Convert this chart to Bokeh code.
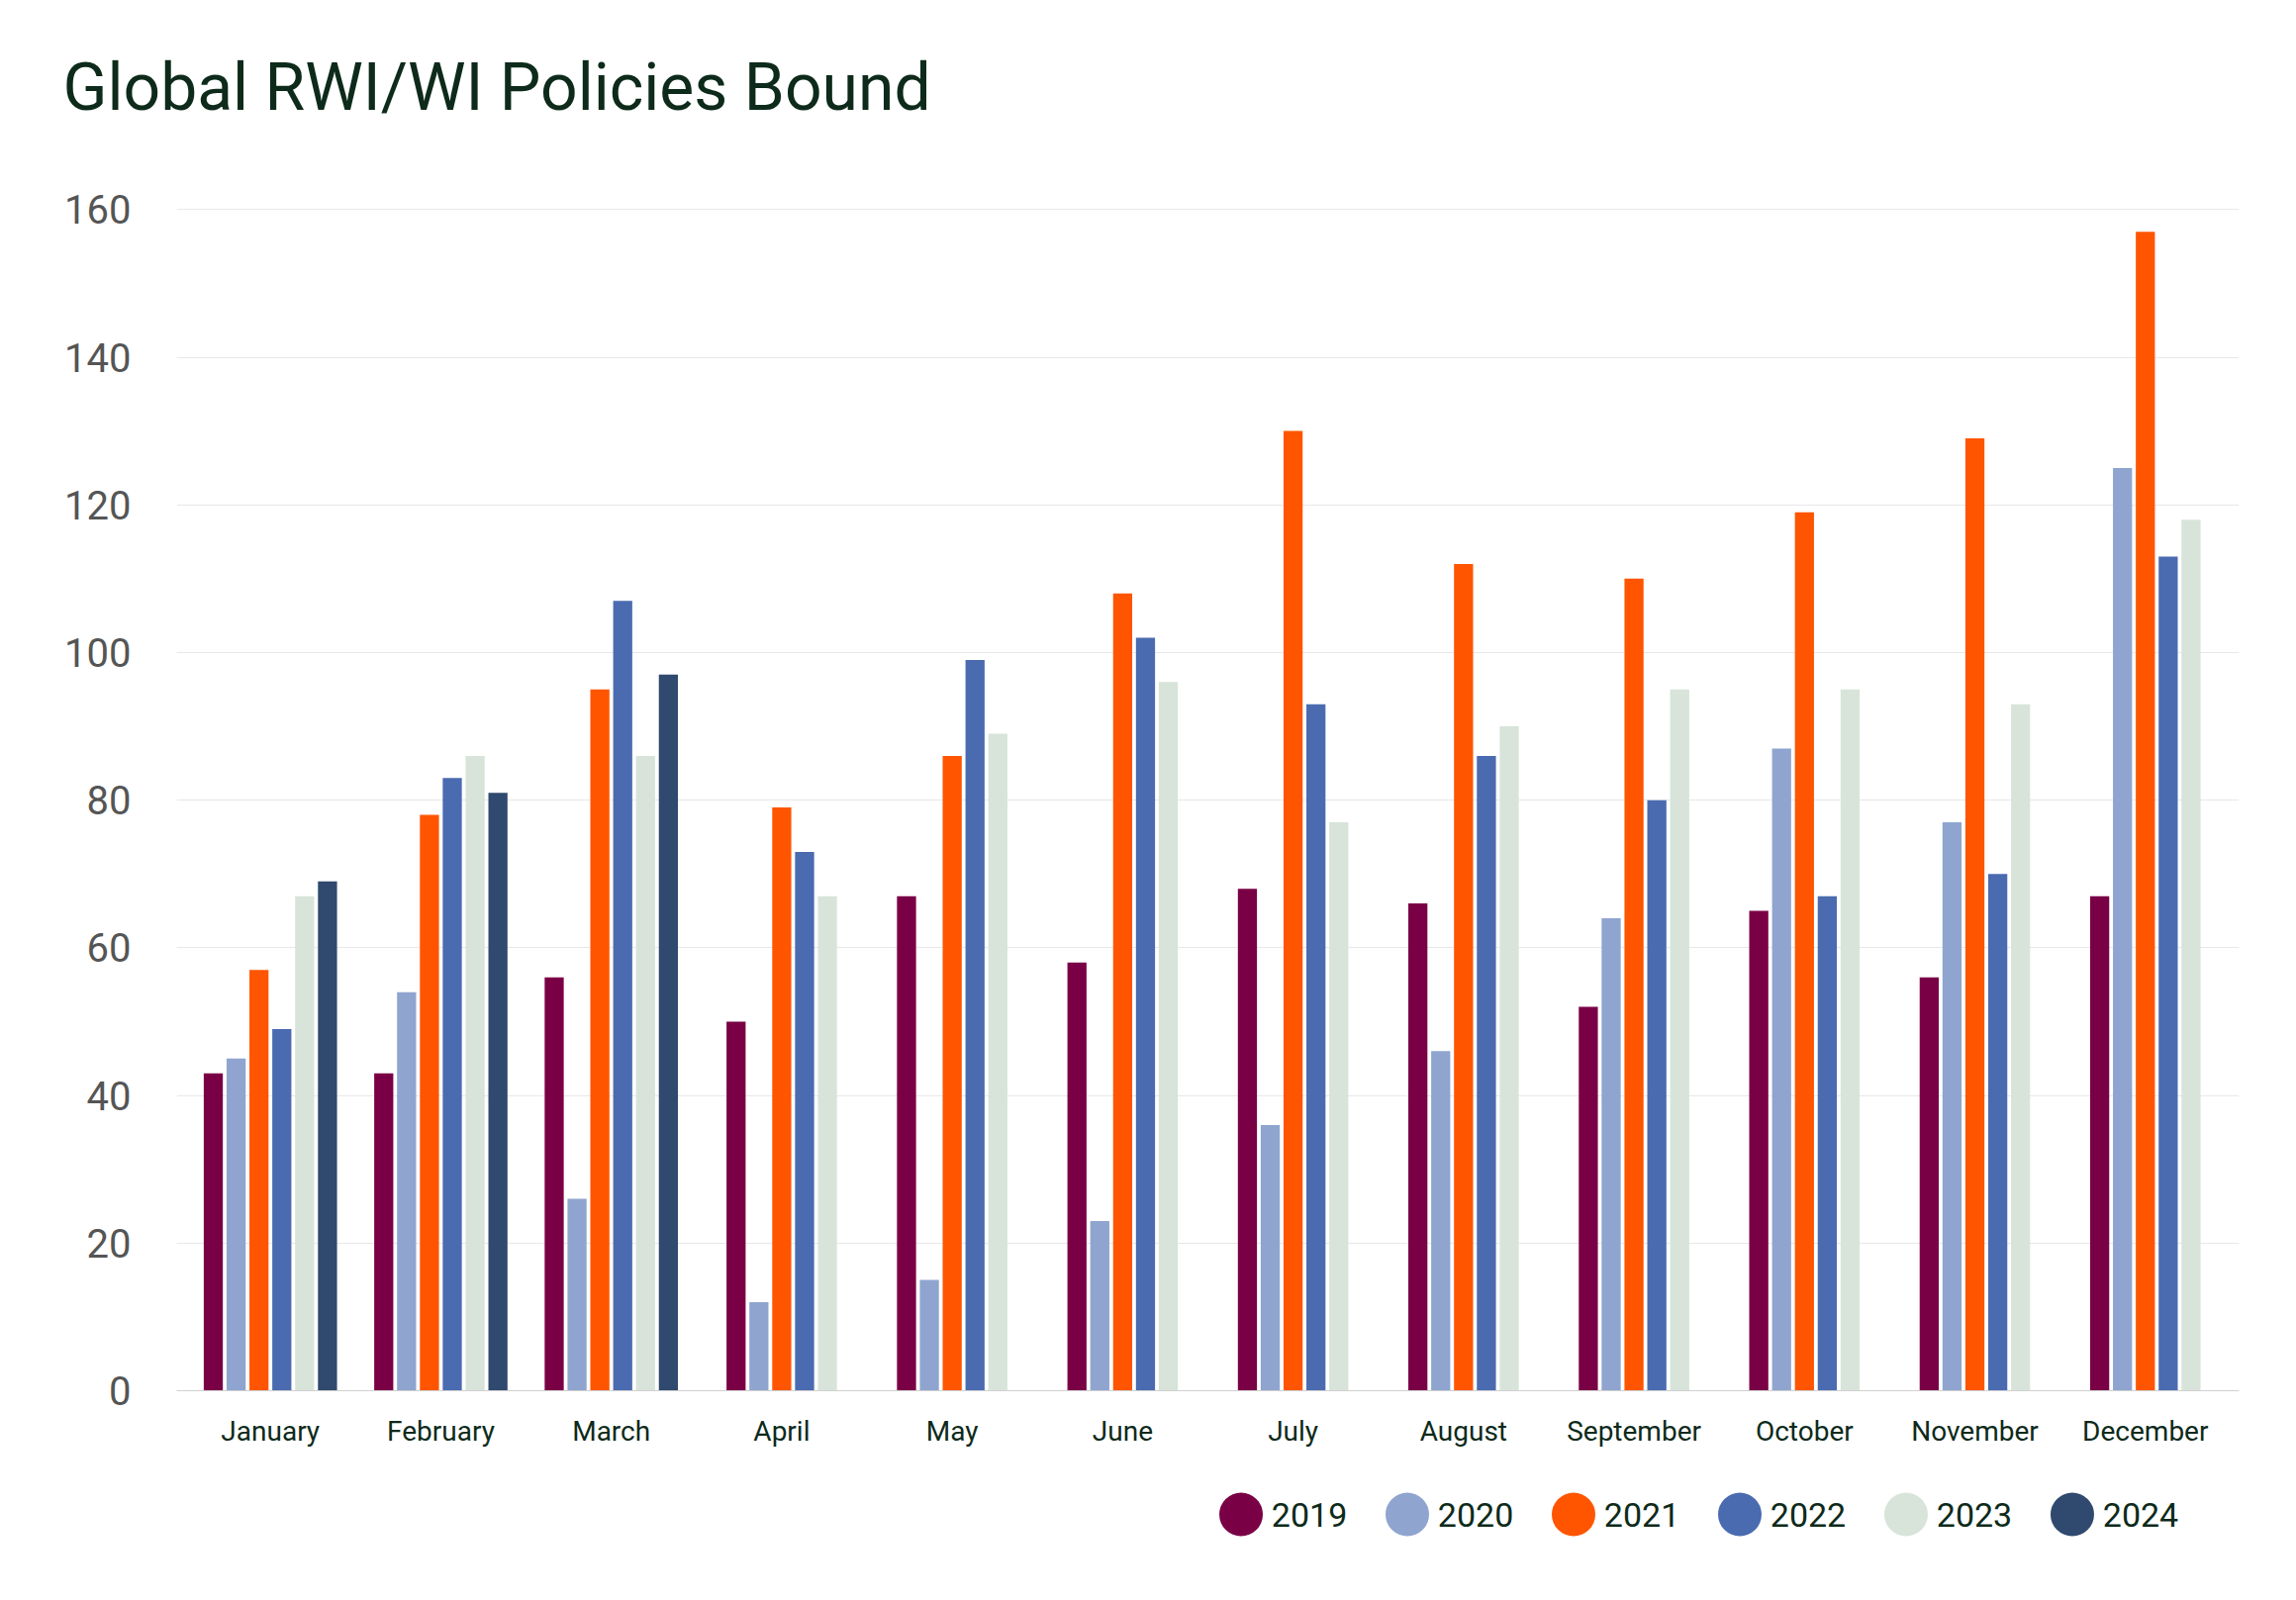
from bokeh.plotting import figure
from bokeh.layouts import column
from bokeh.models import FixedTicker, Range1d, Title
from bokeh.core.properties import value
from bokeh.embed import file_html
from bokeh.resources import INLINE

months = ["January","February","March","April","May","June","July","August","September","October","November","December"]
years = ["2019","2020","2021","2022","2023","2024"]
v2019 = [43,43,56,50,67,58,68,66,52,65,56,67]
v2020 = [45,54,26,12,15,23,36,46,64,87,77,125]
v2021 = [57,78,95,79,86,108,130,112,110,119,129,157]
v2022 = [49,83,107,73,99,102,93,86,80,67,70,113]
v2023 = [67,86,86,67,89,96,77,90,95,95,93,118]
v2024 = [69,81,97,None,None,None,None,None,None,None,None,None]
series = [v2019,v2020,v2021,v2022,v2023,v2024]
colors = ["#7a0046","#8fa5d0","#ff5500","#4a6bb0","#d8e4da","#2f4a6e"]
FONT = "Roboto"

p = figure(width=2300, height=1465, output_backend="svg", toolbar_location=None,
           x_range=Range1d(-0.55, 11.55), y_range=Range1d(0, 165),
           min_border_left=178, min_border_right=38, min_border_top=30, min_border_bottom=20)
p.title = Title(text="Global RWI/WI Policies Bound", text_font=FONT,
                text_font_size="66px", text_color="#0d2a1a", text_font_style="normal", offset=-115)
p.title.standoff = 95

step, w = 0.134, 0.112
for si, vals in enumerate(series):
    xs, tops = [], []
    for mi in range(len(months)):
        if vals[mi] is None:
            continue
        n = sum(1 for s in series if s[mi] is not None)
        xs.append(mi + (si - (n - 1) / 2) * step)
        tops.append(vals[mi])
    p.vbar(x=xs, top=tops, width=w, color=colors[si], line_color=None)

p.xaxis.ticker = FixedTicker(ticks=list(range(12)))
p.xaxis.major_label_overrides = {i: m for i, m in enumerate(months)}
p.xaxis.major_label_text_font = FONT
p.xaxis.major_label_text_font_size = "28px"
p.xaxis.major_label_text_color = "#0d2a1a"
p.xaxis.major_tick_line_color = None
p.xaxis.minor_tick_line_color = None
p.xaxis.axis_line_color = "#d0d0d0"
p.xaxis.major_label_standoff = 18
p.yaxis.ticker = FixedTicker(ticks=[0,20,40,60,80,100,120,140,160])
p.yaxis.major_label_text_font = FONT
p.yaxis.major_label_text_font_size = "40px"
p.yaxis.major_label_text_color = "#555555"
p.yaxis.axis_line_color = None
p.yaxis.major_tick_line_color = None
p.yaxis.minor_tick_line_color = None
p.yaxis.major_label_standoff = 40
p.xgrid.grid_line_color = None
p.ygrid.grid_line_color = "#e8e8e8"
p.outline_line_color = None

lg = figure(width=2300, height=130, output_backend="svg", toolbar_location=None,
            x_range=Range1d(0, 2300), y_range=Range1d(0, 130),
            min_border=0)
lg.axis.visible = False
lg.grid.grid_line_color = None
lg.outline_line_color = None
lx = [1187 + 185.4 * i for i in range(len(years))]
lg.scatter(x=lx, y=[65] * len(years), size=44, color=colors, line_color=None)
lg.text(x=[v + 34 for v in lx], y=[65] * len(years), text=years, text_font=value(FONT),
        text_font_size="34px", text_color="#0d2a1a", text_baseline="middle")

open("out.html", "w").write(file_html(column(p, lg), INLINE))
